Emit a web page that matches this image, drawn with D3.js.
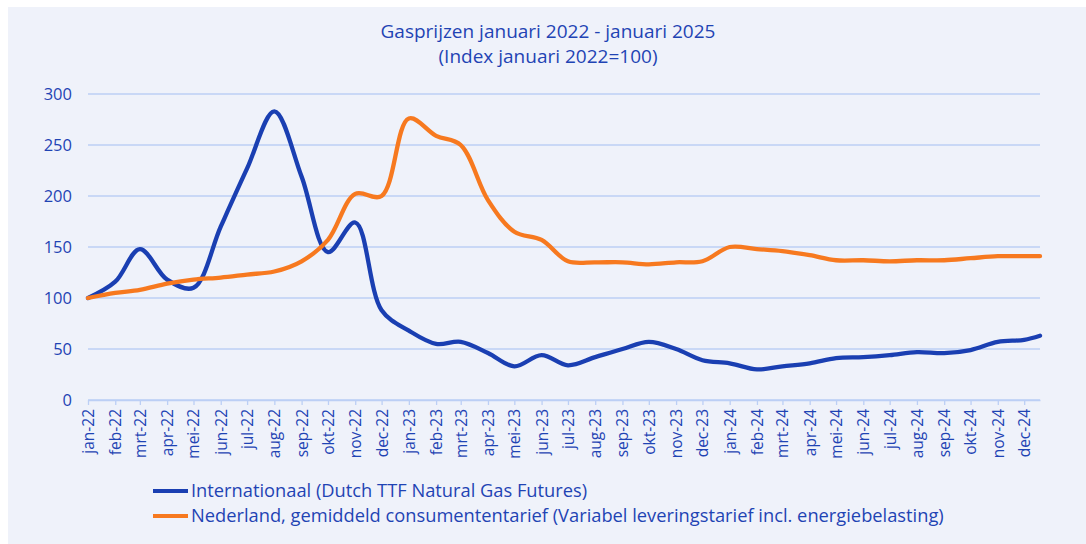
<!DOCTYPE html>
<html>
<head>
<meta charset="utf-8">
<script src="https://cdn.jsdelivr.net/npm/d3@7"></script>
<style>
  body { margin: 0; background: #fff; }
  text { font-family: "Open Sans", sans-serif; fill: #1f44b4; }
</style>
</head>
<body>
<div id="chart"></div>
<script>
var svgWidth = 1086;
var svgHeight = 544;

var margin = { top: 94, right: 46, bottom: 144, left: 88 };
var width = svgWidth - margin.left - margin.right;
var height = svgHeight - margin.top - margin.bottom;

// month dates (1st of month), last point is the most recent reading
var dates = [
  "2022-01-01","2022-02-01","2022-03-01","2022-04-01","2022-05-01","2022-06-01",
  "2022-07-01","2022-08-01","2022-09-01","2022-10-01","2022-11-01","2022-12-01",
  "2023-01-01","2023-02-01","2023-03-01","2023-04-01","2023-05-01","2023-06-01",
  "2023-07-01","2023-08-01","2023-09-01","2023-10-01","2023-11-01","2023-12-01",
  "2024-01-01","2024-02-01","2024-03-01","2024-04-01","2024-05-01","2024-06-01",
  "2024-07-01","2024-08-01","2024-09-01","2024-10-01","2024-11-01","2024-12-01",
  "2024-12-19"
];

var ttf = [
  100, 116, 148, 118, 110, 170, 227, 283, 219, 145, 174, 88,
  68, 55, 57, 46, 33, 44, 34, 42, 50, 57, 50, 39,
  36, 30, 33, 36, 41, 42, 44, 47, 46, 49, 57, 59,
  63
];

var consument = [
  100, 105, 108, 114, 118, 120, 123, 126, 136, 157, 202, 200,
  276, 259, 250, 196, 165, 157, 136, 135, 135, 133, 135, 136,
  150, 148, 146, 142, 137, 137, 136, 137, 137, 139, 141, 141,
  141
];

var monthNames = ["jan","feb","mrt","apr","mei","jun","jul","aug","sep","okt","nov","dec"];
var yTicks = [0, 50, 100, 150, 200, 250, 300];

var seriesNames = [
  "Internationaal (Dutch TTF Natural Gas Futures)",
  "Nederland, gemiddeld consumententarief (Variabel leveringstarief incl. energiebelasting)"
];
var seriesColors = ["#1a3fb2", "#f7791f"];

var parseDate = d3.timeParse("%Y-%m-%d");
var xDates = dates.map(parseDate);

var svg = d3.select("#chart")
  .append("svg")
  .attr("width", svgWidth)
  .attr("height", svgHeight);

svg.append("rect")
  .attr("x", 8)
  .attr("y", 7)
  .attr("width", svgWidth - 8)
  .attr("height", svgHeight - 7)
  .attr("fill", "#eff2fa");

// title
var title = svg.append("text")
  .attr("x", 548)
  .attr("y", 38)
  .attr("text-anchor", "middle")
  .style("font-size", "19px");
title.append("tspan").attr("x", 548).text("Gasprijzen januari 2022 - januari 2025");
title.append("tspan").attr("x", 548).attr("dy", 25).text("(Index januari 2022=100)");

var chartGroup = svg.append("g")
  .attr("transform", `translate(${margin.left}, ${margin.top})`);

var xTimeScale = d3.scaleTime()
  .domain(d3.extent(xDates))
  .range([0, width]);

var yLinearScale = d3.scaleLinear()
  .domain([0, 300])
  .range([height, 0]);

// gridlines
chartGroup.append("g")
  .selectAll("line")
  .data(yTicks)
  .enter()
  .append("line")
  .attr("x1", 0)
  .attr("x2", width)
  .attr("y1", d => yLinearScale(d))
  .attr("y2", d => yLinearScale(d))
  .attr("stroke", "#bccff5")
  .attr("stroke-width", 1.3);

// y axis labels
var leftAxis = d3.axisLeft(yLinearScale)
  .tickValues(yTicks)
  .tickSize(0)
  .tickPadding(16);

var yAxis = chartGroup.append("g").call(leftAxis);
yAxis.select(".domain").remove();
yAxis.selectAll("text")
  .style("font-size", "16.5px")
  .style("font-family", "Open Sans, sans-serif")
  .attr("fill", "#1f44b4");

// x axis
var monthTicks = xDates.slice(0, 36);
var bottomAxis = d3.axisBottom(xTimeScale)
  .tickValues(monthTicks)
  .tickSize(5)
  .tickSizeOuter(0)
  .tickFormat(d => monthNames[d.getMonth()] + "-" + String(d.getFullYear()).slice(2));

var xAxis = chartGroup.append("g")
  .attr("transform", `translate(0, ${height})`)
  .call(bottomAxis);

xAxis.select(".domain").attr("stroke", "#bccff5").attr("stroke-width", 1.5);
xAxis.selectAll(".tick line").attr("stroke", "#bccff5").attr("stroke-width", 1.3);
xAxis.selectAll("text")
  .style("font-size", "15.5px")
  .style("font-family", "Open Sans, sans-serif")
  .attr("fill", "#1f44b4")
  .attr("text-anchor", "end")
  .attr("transform", "rotate(-90)")
  .attr("x", -9)
  .attr("y", 0)
  .attr("dy", "0.35em");

// lines
var lineGen = d3.line()
  .x((d, i) => xTimeScale(xDates[i]))
  .y(d => yLinearScale(d))
  .curve(d3.curveCatmullRom.alpha(0.5));

chartGroup.append("path")
  .datum(ttf)
  .attr("d", lineGen)
  .attr("fill", "none")
  .attr("stroke", seriesColors[0])
  .attr("stroke-width", 4.3)
  .attr("stroke-linecap", "round");

chartGroup.append("path")
  .datum(consument)
  .attr("d", lineGen)
  .attr("fill", "none")
  .attr("stroke", seriesColors[1])
  .attr("stroke-width", 4.3)
  .attr("stroke-linecap", "round");

// legend
var legend = svg.append("g");
seriesNames.forEach(function(name, i) {
  var ly = 491 + i * 25;
  legend.append("line")
    .attr("x1", 153)
    .attr("x2", 188)
    .attr("y1", ly)
    .attr("y2", ly)
    .attr("stroke", seriesColors[i])
    .attr("stroke-width", 4);
  legend.append("text")
    .attr("x", 191)
    .attr("y", ly)
    .attr("dy", "0.35em")
    .style("font-size", "18.3px")
    .text(name);
});
</script>
</body>
</html>
